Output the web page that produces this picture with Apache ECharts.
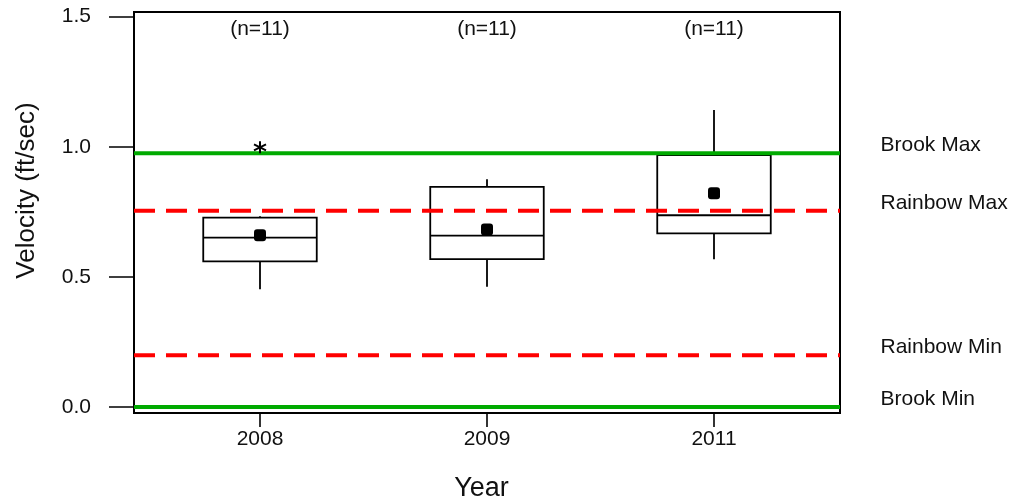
<!DOCTYPE html>
<html>
<head>
<meta charset="utf-8">
<script src="https://cdn.jsdelivr.net/npm/echarts@6/dist/echarts.min.js"></script>
<style>
  html, body { margin: 0; padding: 0; background: #fff; }
  #chart { width: 1013px; height: 500px; }
</style>
</head>
<body>
<div id="chart"></div>
<script>
const years = ["2008", "2009", "2011"];
const whiskerLow = [0.453, 0.462, 0.568];
const q1 = [0.560, 0.568, 0.667];
const median = [0.651, 0.659, 0.737];
const q3 = [0.728, 0.846, 0.968];
const whiskerHigh = [0.733, 0.875, 1.141];
const means = [0.660, 0.682, 0.821];
const outliers = [[0, 0.998]];
const counts = [11, 11, 11];
const countLabelY = 1.45;
const limitNames = ["Brook Max", "Rainbow Max", "Rainbow Min", "Brook Min"];
const limitValues = [0.975, 0.754, 0.199, 0.0];
const limitColors = ["#00aa00", "#ff0000", "#ff0000", "#00aa00"];
const limitDashed = [false, true, true, false];
const yTicks = [0, 0.5, 1.0, 1.5];

const FONT = "Liberation Sans, Arial, sans-serif";
const TXT = "#111";
const yMin = -0.023, yMax = 1.518;

const chart = echarts.init(document.getElementById("chart"));

const boxData = years.map((y, i) => [i, whiskerLow[i], q1[i], median[i], q3[i], whiskerHigh[i]]);

function renderBox(params, api) {
    const x = api.value(0);
    const half = api.size([1, 0])[0] * 0.25;
    const lo = api.coord([x, api.value(1)]);
    const b1 = api.coord([x, api.value(2)]);
    const md = api.coord([x, api.value(3)]);
    const b3 = api.coord([x, api.value(4)]);
    const hi = api.coord([x, api.value(5)]);
    const stroke = { stroke: "#000", lineWidth: 1.8 };
    return {
        type: "group",
        children: [
            { type: "line", shape: { x1: lo[0], y1: lo[1], x2: b1[0], y2: b1[1] }, style: stroke },
            { type: "line", shape: { x1: b3[0], y1: b3[1], x2: hi[0], y2: hi[1] }, style: stroke },
            { type: "rect", shape: { x: b3[0] - half, y: b3[1], width: half * 2, height: b1[1] - b3[1] },
              style: { fill: "none", stroke: "#000", lineWidth: 1.8 } },
            { type: "line", shape: { x1: md[0] - half, y1: md[1], x2: md[0] + half, y2: md[1] }, style: stroke }
        ]
    };
}

const limitSeries = limitNames.map((name, i) => ({
    name: name,
    type: "line",
    xAxisIndex: 0,
    yAxisIndex: 0,
    data: [[0, limitValues[i]], [1, limitValues[i]]],
    symbol: "none",
    silent: true,
    z: 4,
    lineStyle: {
        color: limitColors[i],
        width: 4,
        type: limitDashed[i] ? [21, 11] : "solid"
    }
}));

chart.setOption({
    animation: false,
    textStyle: { fontFamily: FONT },
    grid: [
        { left: 134, right: 173, top: 12, bottom: 87, outerBoundsMode: "none", containLabel: false,
          show: true, borderColor: "#000", borderWidth: 2, backgroundColor: "transparent" },
        { left: 146.5, right: 185.5, top: 12, bottom: 87, outerBoundsMode: "none", containLabel: false }
    ],
    xAxis: [
        { gridIndex: 0, type: "value", min: 0, max: 1, show: false },
        {
            gridIndex: 1, type: "category", data: years, boundaryGap: true, position: "bottom",
            axisLine: { show: false, onZero: false },
            axisTick: { show: true, alignWithLabel: true, length: 14, lineStyle: { color: "#000", width: 1.6 } },
            axisLabel: { color: TXT, fontSize: 21, fontFamily: FONT, margin: 16 },
            name: "Year", nameLocation: "middle", nameGap: 62,
            nameTextStyle: { color: TXT, fontSize: 27, fontFamily: FONT, padding: [0, 11, 0, 0] }
        }
    ],
    yAxis: [
        {
            gridIndex: 0, type: "value", min: yMin, max: yMax,
            splitLine: { show: false },
            axisLine: { show: true, lineStyle: { color: "#000", width: 2 } },
            axisTick: { show: true, customValues: yTicks, length: 25, lineStyle: { color: "#000", width: 1.5 } },
            axisLabel: {
                customValues: yTicks, color: TXT, fontSize: 21, fontFamily: FONT, margin: 43,
                formatter: (v) => v.toFixed(1)
            },
            name: "Velocity (ft/sec)", nameLocation: "middle", nameGap: 94,
            nameTextStyle: { color: TXT, fontSize: 26, fontFamily: FONT, padding: [0, 0, 0, 44] }
        },
        { gridIndex: 1, type: "value", min: yMin, max: yMax, show: false }
    ],
    series: [
        ...limitSeries,
        {
            type: "scatter",
            xAxisIndex: 0,
            yAxisIndex: 0,
            data: limitNames.map((n, i) => [1, limitValues[i], n]),
            symbolSize: 1,
            itemStyle: { color: "transparent", opacity: 1 },
            silent: true,
            label: {
                show: true, position: "right", distance: 40, offset: [0, -8],
                formatter: (p) => p.value[2], color: TXT, fontSize: 21, fontFamily: FONT
            }
        },
        {
            type: "custom",
            xAxisIndex: 1,
            yAxisIndex: 1,
            renderItem: renderBox,
            data: boxData,
            z: 3
        },
        {
            type: "scatter",
            xAxisIndex: 1,
            yAxisIndex: 1,
            data: means.map((m, i) => [i, m]),
            symbol: "roundRect",
            symbolSize: 12,
            itemStyle: { color: "#000", opacity: 1 },
            z: 6
        },
        {
            type: "scatter",
            xAxisIndex: 1,
            yAxisIndex: 1,
            data: outliers,
            symbol: "path://M0,-1L0,1M-0.87,-0.5L0.87,0.5M-0.87,0.5L0.87,-0.5",
            symbolSize: 12,
            itemStyle: { color: "none", borderColor: "#000", borderWidth: 2, opacity: 1 },
            z: 6
        },
        {
            type: "scatter",
            xAxisIndex: 1,
            yAxisIndex: 1,
            data: counts.map((c, i) => [i, countLabelY, c]),
            symbolSize: 1,
            itemStyle: { color: "transparent", opacity: 1 },
            silent: true,
            label: {
                show: true, position: "inside",
                formatter: (p) => "(n=" + p.value[2] + ")",
                color: TXT, fontSize: 21, fontFamily: FONT
            }
        }
    ]
});
</script>
</body>
</html>
